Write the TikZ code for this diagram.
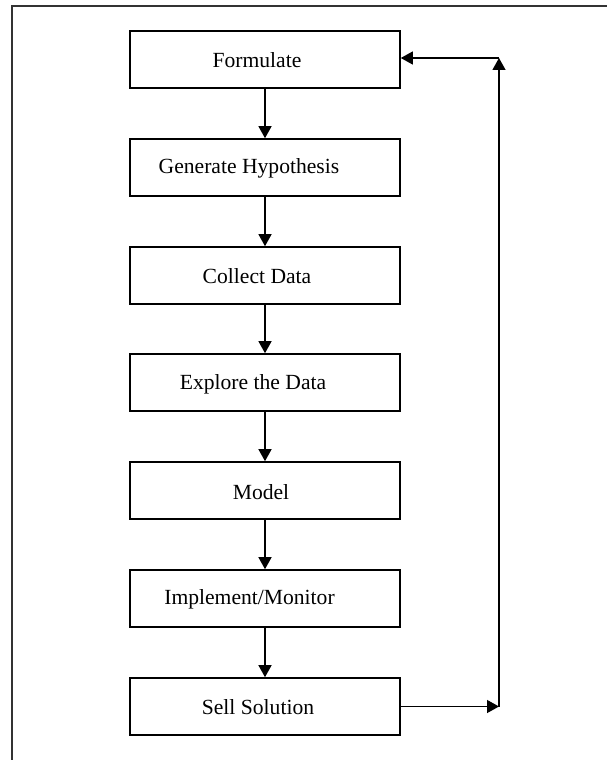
\documentclass[tikz,border=0pt]{standalone}
\usepackage{fontspec}
\setmainfont{Liberation Serif}
\usetikzlibrary{arrows.meta}
\begin{document}
\begin{tikzpicture}[x=1pt,y=-1pt,
  stepbox/.style={draw=black,line width=1.6pt,minimum width=270pt,minimum height=57pt,inner sep=0pt},
  lbl/.style={inner sep=0pt,anchor=base,font=\fontsize{21.6}{26}\selectfont},
  flow/.style={line width=1.3pt,-{Triangle[length=12pt,width=13pt]}}]
\useasboundingbox (0,0) rectangle (607,760);
% outer frame, running past the page edges
\draw[line width=2pt,black!80] (11.5,770) -- (11.5,6.5) -- (617,6.5);
% process boxes
\node[stepbox] (b1) at (265,59.5) {};
\node[stepbox] (b2) at (265,167.5) {};
\node[stepbox] (b3) at (265,275.5) {};
\node[stepbox] (b4) at (265,382.5) {};
\node[stepbox] (b5) at (265,490.5) {};
\node[stepbox] (b6) at (265,598.5) {};
\node[stepbox] (b7) at (265,706.5) {};
% labels, placed by baseline
\node[lbl] (t1) at (257,67.5) {Formulate};
\node[lbl] (t2) at (249,173.5) {Generate Hypothesis};
\node[lbl] (t3) at (257,283.5) {Collect Data};
\node[lbl] (t4) at (253,389) {Explore the Data};
\node[lbl] (t5) at (261,499) {Model};
\node[lbl] (t6) at (249.5,604) {Implement/Monitor};
\node[lbl] (t7) at (258,714.3) {Sell Solution};
% downward flow
\draw[flow] (b1) -- (b2);
\draw[flow] (b2) -- (b3);
\draw[flow] (b3) -- (b4);
\draw[flow] (b4) -- (b5);
\draw[flow] (b5) -- (b6);
\draw[flow] (b6) -- (b7);
% feedback loop
\coordinate (c1) at (499,706.5);
\coordinate (c2) at (499,58);
\draw[flow] (b7.east) -- (c1);
\draw[flow] (c1) -- (c2);
\draw[flow] (c2) -- (b1.east |- c2);
\end{tikzpicture}
\end{document}
